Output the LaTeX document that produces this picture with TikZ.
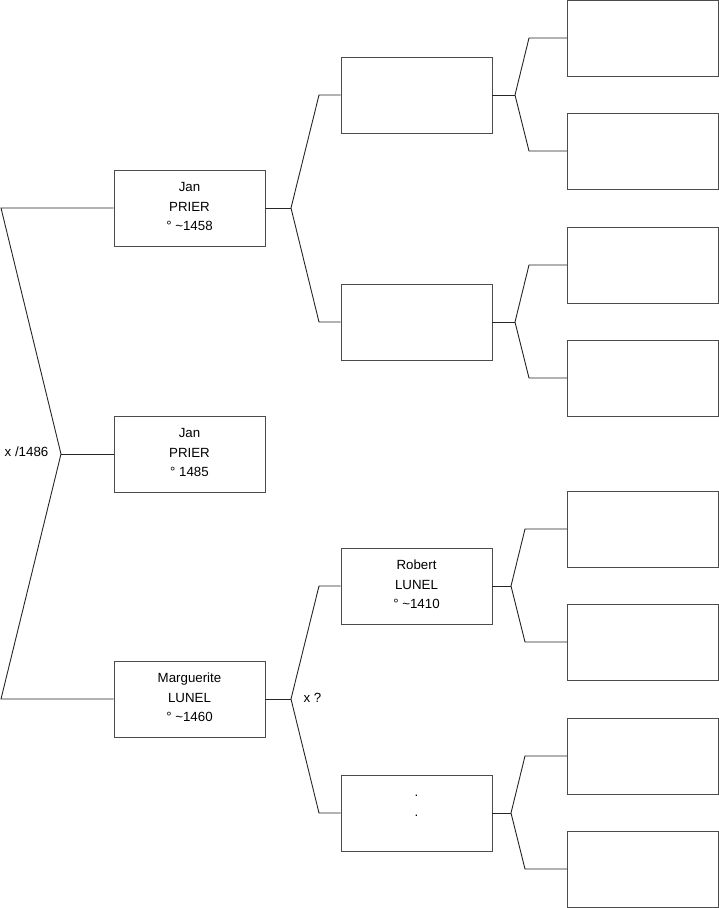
\documentclass[tikz,border=0pt]{standalone}
\usepackage{fontspec}
\setmainfont{Liberation Sans}
\begin{document}
\begin{tikzpicture}[x=1pt,y=1pt,
  box/.style={draw=black!70,line width=0.9pt,rectangle,minimum width=151pt,minimum height=76pt,inner sep=0pt,align=center,font=\fontsize{13.3}{19.5}\selectfont,execute at end node={\rule[-3pt]{0pt}{3pt}}},
  conn/.style={draw=black!85,line width=0.9pt},
  lbl/.style={font=\fontsize{13.3}{15}\selectfont,inner sep=0pt}]
\useasboundingbox (0,0) rectangle (719,-908);
% generation 1
\node[box] (g1a) at (189.5,-208) {Jan\\PRIER\\° \textasciitilde1458};
\node[box] (g1b) at (189.5,-454) {Jan\\PRIER\\° 1485};
\node[box] (g1c) at (189.5,-699) {Marguerite\\LUNEL\\° \textasciitilde1460};
% generation 2
\node[box] (g2a) at (416.5,-95) {};
\node[box] (g2b) at (416.5,-322) {};
\node[box] (g2c) at (416.5,-586) {Robert\\LUNEL\\° \textasciitilde1410};
\node[box] (g2d) at (416.5,-813) {\vphantom{J}.\\.\\\vphantom{1}};
% generation 3
\node[box] (g3a) at (643,-38) {};
\node[box] (g3b) at (643,-151) {};
\node[box] (g3c) at (643,-265) {};
\node[box] (g3d) at (643,-378) {};
\node[box] (g3e) at (643,-529) {};
\node[box] (g3f) at (643,-642) {};
\node[box] (g3g) at (643,-756) {};
\node[box] (g3h) at (643,-869) {};
% labels
\node[lbl] (mx1) at (26.5,-452) {x /1486};
\node[lbl] (mx2) at (312.5,-698) {x ?};
% left fork
\coordinate (L1) at (1,-208);
\coordinate (L2) at (1,-699);
\coordinate (LA) at (61,-454);
\draw[conn] (g1a.west) -- (L1) -- (LA) -- (L2) -- (g1c.west);
\draw[conn] (LA) -- (g1b.west);
% fork g1a
\coordinate (A1) at (291,-208);
\coordinate (A1t) at (319,-95);
\coordinate (A1b) at (319,-322);
\draw[conn] (g1a.east) -- (A1);
\draw[conn] (g2a.west) -- (A1t) -- (A1) -- (A1b) -- (g2b.west);
% fork g1c
\coordinate (C1) at (291,-699);
\coordinate (C1t) at (319,-586);
\coordinate (C1b) at (319,-813);
\draw[conn] (g1c.east) -- (C1);
\draw[conn] (g2c.west) -- (C1t) -- (C1) -- (C1b) -- (g2d.west);
% fork g2a
\coordinate (B1) at (515,-95);
\coordinate (B1t) at (529,-38);
\coordinate (B1b) at (529,-151);
\draw[conn] (g2a.east) -- (B1);
\draw[conn] (g3a.west) -- (B1t) -- (B1) -- (B1b) -- (g3b.west);
% fork g2b
\coordinate (B2) at (515,-322);
\coordinate (B2t) at (529,-265);
\coordinate (B2b) at (529,-378);
\draw[conn] (g2b.east) -- (B2);
\draw[conn] (g3c.west) -- (B2t) -- (B2) -- (B2b) -- (g3d.west);
% fork g2c
\coordinate (B3) at (511,-586);
\coordinate (B3t) at (525,-529);
\coordinate (B3b) at (525,-642);
\draw[conn] (g2c.east) -- (B3);
\draw[conn] (g3e.west) -- (B3t) -- (B3) -- (B3b) -- (g3f.west);
% fork g2d
\coordinate (B4) at (511,-813);
\coordinate (B4t) at (525,-756);
\coordinate (B4b) at (525,-869);
\draw[conn] (g2d.east) -- (B4);
\draw[conn] (g3g.west) -- (B4t) -- (B4) -- (B4b) -- (g3h.west);
\end{tikzpicture}
\end{document}
